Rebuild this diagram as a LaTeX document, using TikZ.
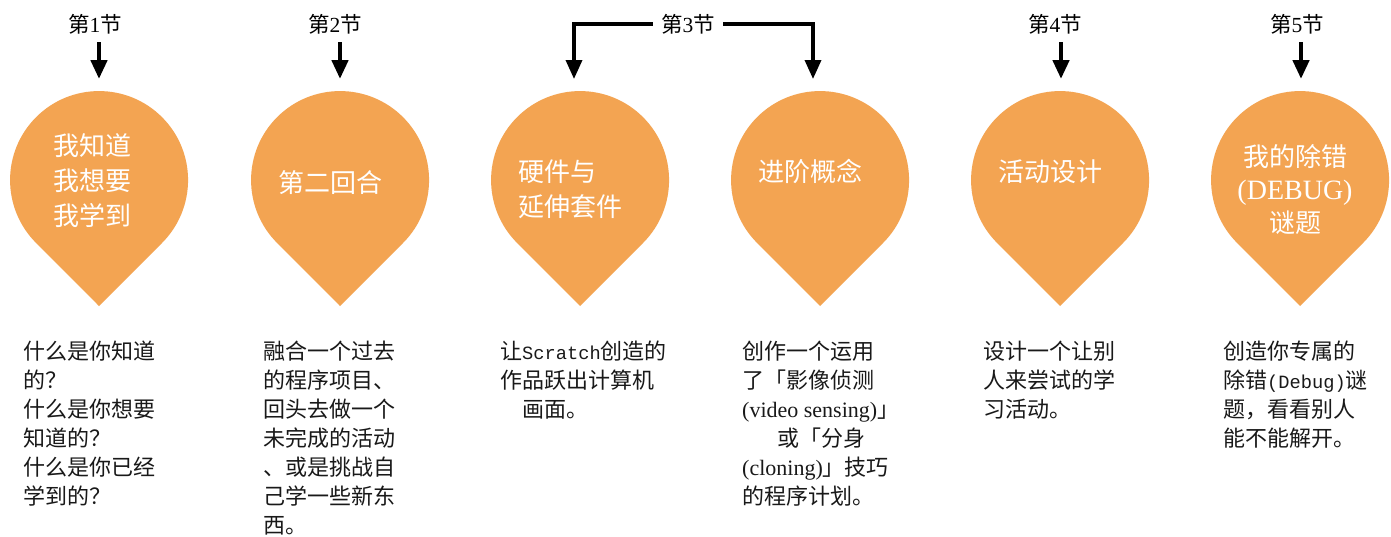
\documentclass[tikz,border=0pt]{standalone}
\usepackage{fontspec}
\setmainfont{Liberation Serif}
\newfontfamily\cjk{Noto Sans CJK SC}
\newfontfamily\monof[Scale=0.85]{Liberation Mono}
\newfontfamily\latf{Liberation Serif}
\usetikzlibrary{arrows.meta}
\definecolor{pinfill}{RGB}{243,164,82}
\newcommand\lat[1]{{\latf #1}}
\newcommand\mon[1]{{\monof #1}}
\newcommand\pinat[2]{\fill[pinfill] (#1,#2+126) -- (#1+63,#2+63) arc[start angle=45, end angle=-225, radius=89] -- cycle;}
\tikzset{
  seclabel/.style={font=\cjk\fontsize{21.5}{24}\selectfont, inner sep=0pt, text=black},
  arr/.style={line width=4.5pt, -{Triangle[width=16pt,length=19pt]}},
  pintext/.style={font=\cjk\fontsize{26}{35}\selectfont, text=white, inner sep=0pt},
  desc/.style={font=\cjk\fontsize{22}{29}\selectfont, text=black!90, inner sep=0pt, anchor=north west, align=left}
}
\begin{document}
\begin{tikzpicture}[x=1pt,y=-1pt]
\useasboundingbox (0,0) rectangle (1391,536);
\fill[white] (0,0) rectangle (1391,536);

% pins
\pinat{99}{180}
\pinat{340}{180}
\pinat{580}{180}
\pinat{820}{180}
\pinat{1060}{180}
\pinat{1300}{180}

% section labels
\node[seclabel] (s1) at (95,24) {第\lat{1}节};
\node[seclabel] (s2) at (335,24) {第\lat{2}节};
\node[seclabel] (s3) at (688,24) {第\lat{3}节};
\node[seclabel] (s4) at (1055,24) {第\lat{4}节};
\node[seclabel] (s5) at (1297,24) {第\lat{5}节};

\coordinate (t1) at (99,79);
\coordinate (t2) at (340,79);
\coordinate (t3) at (574,79);
\coordinate (t4) at (813,79);
\coordinate (t5) at (1061,79);
\coordinate (t6) at (1301,79);

\draw[arr] (t1 |- 0,42) -- (t1);
\draw[arr] (t2 |- 0,42) -- (t2);
\draw[arr, line width=3.5pt] ([xshift=-8pt]s3.west) -| (t3);
\draw[arr, line width=3.5pt] ([xshift=8pt]s3.east) -| (t4);
\draw[arr] (t5 |- 0,42) -- (t5);
\draw[arr] (t6 |- 0,42) -- (t6);

% pin texts
\node[pintext, align=center] (p1) at (92,181) {我知道\\我想要\\我学到};
\node[pintext] (p2) at (330,183) {第二回合};
\node[pintext, align=left] (p3) at (570,189) {硬件与\\延伸套件};
\node[pintext] (p4) at (810,171) {进阶概念};
\node[pintext] (p5) at (1050,172) {活动设计};
\node[pintext, align=center, font=\cjk\fontsize{26}{33}\selectfont] (p6) at (1295,190) {我的除错\\{\latf\fontsize{28}{33}\selectfont (DEBUG)}\\谜题};

% descriptions
\node[desc] (d1) at (23,341) {什么是你知道\\的？\\什么是你想要\\知道的？\\什么是你已经\\学到的？};
\node[desc] (d2) at (263,341) {融合一个过去\\的程序项目、\\回头去做一个\\未完成的活动\\、或是挑战自\\己学一些新东\\西。};
\node[desc] (d3) at (500,341) {让\mon{Scratch}创造的\\作品跃出计算机\\\hspace*{22pt}画面。};
\node[desc] (d4) at (742,341) {创作一个运用\\了「影像侦测\\\lat{(video sensing)}」\\\hspace*{35pt}或「分身\\\lat{(cloning)}」技巧\\的程序计划。};
\node[desc] (d5) at (983,341) {设计一个让别\\人来尝试的学\\习活动。};
\node[desc] (d6) at (1223,341) {创造你专属的\\除错\mon{(Debug)}谜\\题，看看别人\\能不能解开。};
\end{tikzpicture}
\end{document}
